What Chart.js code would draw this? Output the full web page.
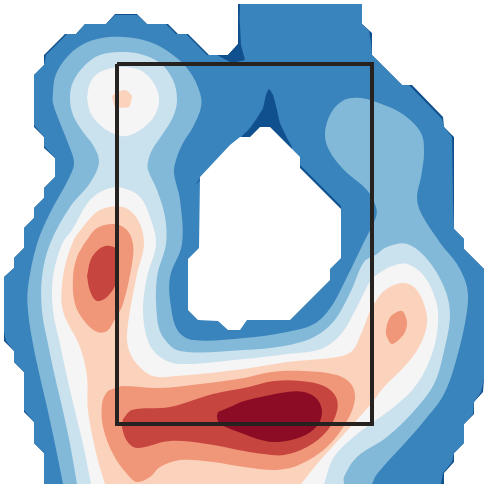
<!DOCTYPE html>
<html>
<head>
<meta charset="utf-8">
<script src="https://cdn.jsdelivr.net/npm/chart.js@4"></script>
<style>
  html, body { margin: 0; padding: 0; background: #fff; }
  canvas { display: block; }
</style>
</head>
<body>
<canvas id="contour-chart" width="488" height="488"></canvas>
<script>
// contour bands, in plot units (0-488 both ways)
const outerDark = [[115,14],[137,14],[147,24],[168,24],[178,34],[188,34],[209,55],[228,55],[238,44],[238,4],[362,4],[362,24],[372,33],[372,55],[402,85],[412,85],[443,117],[444,127],[454,137],[454,229],[464,239],[464,249],[484,269],[484,379],[483,392],[474,402],[474,414],[464,424],[464,443],[454,453],[454,462],[444,473],[444,484],[44,484],[44,453],[34,443],[34,422],[24,412],[24,372],[14,362],[14,351],[4,341],[4,277],[14,268],[14,258],[24,248],[24,228],[34,218],[34,208],[44,198],[44,188],[55,177],[55,158],[44,148],[44,137],[34,127],[34,75],[44,65],[44,55],[65,34],[76,34],[85,24],[106,24]];
const blueBand = [[115,15],[137,15],[147,24],[166,24],[176,34],[186,34],[207,55],[228,55],[239,44],[240,4],[362,4],[362,24],[369,31],[371,43],[372,55],[402,85],[409,85],[442,119],[444,127],[452,137],[453,200],[454,229],[464,239],[464,249],[484,269],[484,379],[481,392],[474,402],[473,414],[464,424],[464,443],[454,453],[452,462],[443,473],[441,484],[44,484],[44,453],[34,443],[34,422],[24,410],[24,372],[14,362],[14,351],[6,341],[4,332],[4,277],[14,268],[14,258],[24,248],[24,228],[34,218],[34,208],[44,198],[44,188],[55,177],[55,158],[44,146],[44,137],[34,125],[34,75],[44,65],[46,55],[67,34],[76,34],[85,24],[106,24]];
const darkWedge = [[217,55],[228,55],[238,44],[238,10],[240,25],[241,45],[245,60],[232,63]];
const darkSpike = [[241,137],[250,128],[257,118],[263,108],[266,95],[269,89],[273,95],[277,110],[280,123],[287,138],[292,149],[270,165],[244,150]];
const darkSlivers = [[207,170],[233,143],[235,145],[209,172],[195,185]];
const darkSliverRight = [[300,165],[341,206],[341,215],[296,170]];
const darkSliverLow = [[308,298],[290,318],[286,318],[306,296]];
const holeWhite = [[200,177],[230,145],[240,137],[250,137],[260,127],[270,127],[300,157],[300,168],[341,209],[341,258],[330,269],[330,280],[290,320],[247,320],[240,330],[228,330],[218,321],[198,320],[188,310],[188,259],[199,248]];

const lightBlueBand = [[63,484],[63,484],[55,444],[47,407],[40,377],[33,344],[28,311],[28,287],[37,244],[50,213],[68,180],[74,163],[68,143],[60,123],[53,103],[53,93],[55,77],[63,62],[77,48],[97,39],[123,37],[150,42],[173,55],[190,72],[200,93],[201,107],[193,127],[183,143],[176,160],[174,173],[180,200],[182,244],[170,277],[171,307],[178,331],[193,340],[244,338],[287,332],[314,324],[331,307],[347,277],[363,244],[376,217],[376,207],[367,190],[344,170],[329,150],[325,133],[331,113],[344,100],[361,98],[384,105],[404,115],[421,133],[424,153],[421,177],[417,197],[421,213],[441,244],[457,264],[467,287],[467,311],[457,357],[444,394],[424,421],[404,444],[377,474],[372,484],[372,484]];
const paleBand = [[77,484],[77,484],[70,444],[63,411],[55,377],[48,344],[42,311],[42,277],[50,244],[70,207],[90,183],[99,162],[93,145],[83,132],[73,115],[70,98],[73,82],[85,65],[100,55],[120,52],[140,54],[160,63],[173,80],[177,100],[173,117],[162,135],[152,150],[148,162],[148,170],[157,190],[165,217],[166,244],[157,277],[157,317],[163,337],[180,351],[244,350],[284,346],[314,337],[334,321],[351,291],[364,262],[377,254],[387,247],[407,244],[427,259],[444,287],[450,314],[444,351],[434,384],[414,411],[387,437],[357,457],[344,477],[344,484],[344,484]];
const whiteTop = [[87,98],[90,83],[100,72],[120,67],[140,70],[153,82],[159,98],[155,115],[143,128],[127,136],[112,133],[98,123],[90,112]];
const whiteBand = [[91,484],[91,484],[83,444],[75,411],[67,377],[60,344],[53,311],[53,277],[62,244],[72,230],[90,200],[107,189],[123,188],[140,197],[150,217],[156,244],[147,277],[143,311],[148,341],[160,357],[180,364],[244,359],[287,354],[321,349],[341,334],[357,307],[371,280],[381,272],[392,266],[407,264],[424,276],[436,301],[438,324],[432,354],[417,384],[394,407],[361,431],[334,457],[324,484],[324,484]];
const peachTop = [[112,96],[117,92],[126,90],[132,96],[129,107],[115,107]];
const peachBand = [[105,484],[105,484],[97,457],[88,411],[87,377],[80,347],[63,311],[63,277],[72,244],[83,227],[100,210],[123,207],[138,220],[144,244],[137,274],[128,324],[128,347],[137,364],[153,376],[177,376],[244,369],[287,362],[337,357],[352,351],[361,334],[370,311],[374,304],[384,291],[401,283],[414,287],[424,304],[427,324],[419,347],[404,367],[384,387],[371,404],[344,434],[317,464],[301,484],[301,484]];
const salmonUpper = [[84,244],[97,228],[115,224],[127,230],[133,244],[132,264],[123,304],[115,319],[107,331],[97,332],[85,322],[75,304],[73,277],[77,257]];
const salmonLower = [[115,388],[107,392],[102,404],[103,427],[113,454],[127,474],[137,482],[150,477],[160,467],[180,460],[213,462],[244,467],[277,470],[301,464],[327,447],[347,421],[355,399],[351,384],[337,375],[304,371],[271,372],[244,378],[200,384],[160,388],[123,386]];
const salmonRight = [[387,324],[391,316],[402,311],[407,322],[404,334],[392,344],[386,334]];
const redUpper = [[87,276],[92,257],[105,246],[117,250],[117,280],[108,296],[97,301],[90,291]];
const redLower = [[123,419],[132,410],[170,407],[213,394],[244,388],[274,381],[301,381],[324,386],[336,397],[337,411],[327,431],[307,447],[284,455],[264,454],[244,451],[207,444],[170,441],[137,448],[127,441],[122,427]];
const darkRedCore = [[218,412],[230,407],[244,401],[287,392],[304,392],[317,399],[322,412],[317,426],[301,437],[277,442],[261,440],[244,434],[220,424],[217,417]];
const frameBox = [[117,64],[372,64],[372,424],[117,424],[117,64]];

const DARK = "#11508f", BLUE = "#3a84bd", LIGHT = "#83b9d8", PALE = "#cae1ee",
  NEUTRAL = "#f5f5f5", PEACH = "#fbd3bc", SALMON = "#f0977a", RED = "#c6463f", DEEP = "#8c0b25";

function band(points, color, tension) {
  const pts = points.concat([points[0]]).map(function (p) {
    return { x: p[0], y: p[1] };
  });
  return {
    data: pts,
    showLine: true,
    fill: "shape",
    backgroundColor: color,
    borderWidth: 0,
    pointRadius: 0,
    tension: tension
  };
}

// listed bottom to top
const layers = [
  band(outerDark, DARK, 0),
  band(blueBand, BLUE, 0),
  band(darkWedge, DARK, 0),
  band(darkSpike, DARK, 0.2),
  band(darkSlivers, DARK, 0),
  band(darkSliverRight, DARK, 0),
  band(darkSliverLow, DARK, 0),
  band(holeWhite, "#ffffff", 0),
  band(lightBlueBand, LIGHT, 0.35),
  band(paleBand, PALE, 0.35),
  band(whiteTop, NEUTRAL, 0.35),
  band(whiteBand, NEUTRAL, 0.35),
  band(peachTop, PEACH, 0.15),
  band(peachBand, PEACH, 0.35),
  band(salmonUpper, SALMON, 0.35),
  band(salmonLower, SALMON, 0.35),
  band(salmonRight, SALMON, 0.3),
  band(redUpper, RED, 0.35),
  band(redLower, RED, 0.35),
  band(darkRedCore, DEEP, 0.35),
  {
    data: frameBox.map(function (p) { return { x: p[0], y: p[1] }; }),
    showLine: true,
    fill: false,
    borderColor: "#262220",
    borderWidth: 4,
    borderJoinStyle: "miter",
    pointRadius: 0
  }
];

new Chart(document.getElementById("contour-chart"), {
  type: "scatter",
  data: { datasets: layers.reverse() }, // chart.js paints the first dataset last
  options: {
    responsive: false,
    animation: false,
    layout: { padding: 0 },
    plugins: { legend: { display: false }, tooltip: { enabled: false } },
    scales: {
      x: { type: "linear", min: 0, max: 488, display: false },
      y: { type: "linear", min: 0, max: 488, reverse: true, display: false }
    }
  }
});
</script>
</body>
</html>
